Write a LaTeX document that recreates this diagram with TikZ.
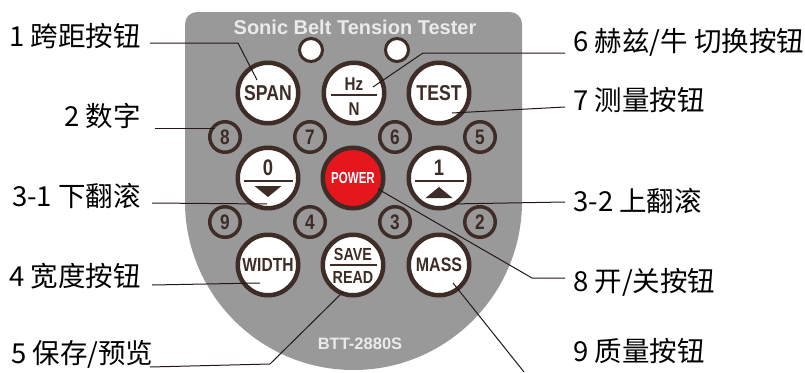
\documentclass[tikz,border=0pt]{standalone}
\usepackage{fontspec}
\newfontfamily\cjk{Noto Sans CJK SC}
\newfontfamily\arial{Liberation Sans}
\newfontfamily\cond{Liberation Sans}[FakeStretch=0.82]
\newfontfamily\condx{Liberation Sans}[FakeStretch=0.72]
\definecolor{brn}{HTML}{3E2C26}
\definecolor{pwr}{HTML}{E5161E}
\definecolor{panel}{HTML}{999999}
\definecolor{ptext}{HTML}{EAEAEA}
\definecolor{lk}{HTML}{231815}
\begin{document}
\begin{tikzpicture}[x=1pt,y=-1pt,
  btn/.style={circle, draw=brn, line width=4.5pt, fill=white, minimum size=60.5pt, inner sep=0pt, text=brn, font=\cond\bfseries\fontsize{21.5}{21.5}\selectfont},
  numc/.style={circle, draw=brn, line width=3.5pt, minimum size=30.5pt, inner sep=0pt, text=brn, font=\cond\bfseries\fontsize{21}{21}\selectfont},
  led/.style={circle, draw=brn, line width=3pt, fill=white, minimum size=23pt, inner sep=0pt},
  lbl/.style={font=\cjk\fontsize{27.5}{27.5}\selectfont, inner sep=0pt, text=black},
  conn/.style={draw=lk, line width=1pt},
  inlbl/.style={inner sep=0pt, text=brn, font=\cond\bfseries\fontsize{18.5}{18.5}\selectfont},
  fracline/.style={draw=brn, line width=2pt}
]
\useasboundingbox (0,0) rectangle (805,372);
% panel
\fill[panel] (185,201.5) -- (185,24) arc[start angle=180, end angle=270, radius=12]
  -- (510,12) arc[start angle=270, end angle=360, radius=12]
  -- (522,201.5) arc[start angle=0, end angle=180, radius=168.5] -- cycle;
\node[text=ptext, font=\arial\bfseries\fontsize{20}{20}\selectfont, inner sep=0pt] (title) at (355,27.5) {Sonic Belt Tension Tester};
\node[text=ptext, font=\arial\bfseries\fontsize{16.5}{16.5}\selectfont, inner sep=0pt] (model) at (360,344) {BTT-2880S};
% LEDs
\node[led] (led1) at (311,50) {};
\node[led] (led2) at (397,50) {};
% top row
\node[btn] (span) at (268,93) {SPAN};
\node[btn] (hzn) at (354,93) {};
\node[btn] (test) at (439,93) {TEST};
\node[inlbl, anchor=base] (hz) at (354,90) {Hz};
\node[inlbl, anchor=base] (nn) at (354,115) {N};
\draw[fracline] (331,94.5) -- (377,94.5);
% number row 1
\node[numc] (n8) at (225,137) {8};
\node[numc] (n7) at (310,137) {7};
\node[numc] (n6) at (395,137) {6};
\node[numc] (n5) at (480,137) {5};
% middle row
\node[btn] (down) at (268,178) {};
\node[btn, fill=pwr, text=white, font=\condx\bfseries\fontsize{16}{16}\selectfont] (power) at (353,178) {POWER};
\node[btn] (up) at (439,178) {};
\node[inlbl, anchor=base, font=\cond\bfseries\fontsize{22.5}{22.5}\selectfont] (zero) at (268,175.5) {0};
\draw[fracline] (243.5,180.5) -- (292.5,180.5);
\fill[brn] (254.5,186) -- (281.5,186) -- (268,197) -- cycle;
\node[inlbl, anchor=base, font=\cond\bfseries\fontsize{22.5}{22.5}\selectfont] (one) at (439,175.5) {1};
\draw[fracline] (414.5,180.5) -- (463.5,180.5);
\fill[brn] (425.5,198) -- (452.5,198) -- (439,187) -- cycle;
% number row 2
\node[numc] (n9) at (225,222) {9};
\node[numc] (n4) at (310,222) {4};
\node[numc] (n3) at (395,222) {3};
\node[numc] (n2) at (480,222) {2};
% bottom row
\node[btn, font=\cond\bfseries\fontsize{19}{19}\selectfont] (width) at (268,265) {WIDTH};
\node[btn] (save) at (353,265) {};
\node[btn, font=\cond\bfseries\fontsize{19.5}{19.5}\selectfont] (mass) at (439,265) {MASS};
\node[inlbl, anchor=base, font=\cond\bfseries\fontsize{17.5}{17.5}\selectfont] (sv) at (353,260.5) {SAVE};
\draw[fracline] (329.5,264.5) -- (376.5,264.5);
\node[inlbl, anchor=base, font=\cond\bfseries\fontsize{17.5}{17.5}\selectfont] (rd) at (353,283) {READ};
% left labels
\node[lbl, anchor=base east] (l1) at (141,46) {1 跨距按钮};
\node[lbl, anchor=base east] (l2) at (141,126) {2 数字};
\node[lbl, anchor=base east] (l3) at (141,206.5) {3-1 下翻滚};
\node[lbl, anchor=base east] (l4) at (141,286.5) {4 宽度按钮};
\node[lbl, anchor=base west] (l5) at (11,363) {5 保存/预览};
% right labels
\node[lbl, anchor=base west] (r6) at (573,51.5) {6 赫兹/牛 切换按钮};
\node[lbl, anchor=base west] (r7) at (573,110) {7 测量按钮};
\node[lbl, anchor=base west] (r3) at (573,211) {3-2 上翻滚};
\node[lbl, anchor=base west] (r8) at (573,291.5) {8 开/关按钮};
\node[lbl, anchor=base west] (r9) at (573,361.5) {9 质量按钮};
% connector points
\coordinate (a1) at (150,43);  \coordinate (b1) at (238,43);  \coordinate (c1) at (257,80);
\coordinate (a2) at (155,128); \coordinate (c2) at (215,128);
\coordinate (a3) at (152,203); \coordinate (c3) at (267,204);
\coordinate (a4) at (152,285); \coordinate (c4) at (260,283);
\coordinate (a5) at (150,367); \coordinate (b5) at (270,364); \coordinate (c5) at (343,292);
\coordinate (a6) at (565,53);  \coordinate (b6) at (423,53);  \coordinate (c6) at (373,87);
\coordinate (a7) at (565,107); \coordinate (c7) at (452,113);
\coordinate (a8) at (565,202); \coordinate (c8) at (450,204);
\coordinate (a9) at (565,278); \coordinate (b9) at (532,278); \coordinate (c9) at (378,189);
\coordinate (a10) at (524,372); \coordinate (c10) at (453,283);
\draw[conn] (a1) -- (b1) -- (c1);
\draw[conn] (a2) -- (c2);
\draw[conn] (a3) -- (c3);
\draw[conn] (a4) -- (c4);
\draw[conn] (a5) -- (b5) -- (c5);
\draw[conn] (a6) -- (b6) -- (c6);
\draw[conn] (a7) -- (c7);
\draw[conn] (a8) -- (c8);
\draw[conn] (a9) -- (b9) -- (c9);
\draw[conn] (a10) -- (c10);
\end{tikzpicture}
\end{document}
